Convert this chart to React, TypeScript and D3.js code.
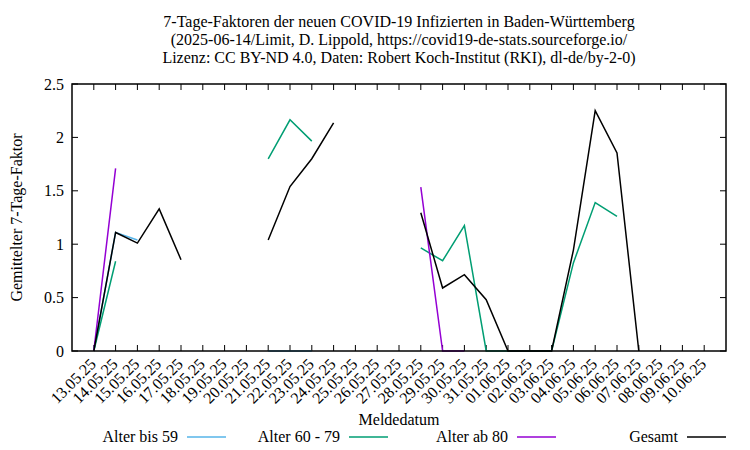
import React from 'react';
import * as d3 from 'd3';

// Meldedatum labels, 13.05.25 .. 10.06.25
const dates: string[] = [
  '13.05.25', '14.05.25', '15.05.25', '16.05.25', '17.05.25', '18.05.25', '19.05.25',
  '20.05.25', '21.05.25', '22.05.25', '23.05.25', '24.05.25', '25.05.25', '26.05.25',
  '27.05.25', '28.05.25', '29.05.25', '30.05.25', '31.05.25', '01.06.25', '02.06.25',
  '03.06.25', '04.06.25', '05.06.25', '06.06.25', '07.06.25', '08.06.25', '09.06.25',
  '10.06.25',
];

type V = number | null;

const alterBis59: V[] = [
  0, 1.11, 1.04, null, null, null, null, null, 0, 0, 0, null, null, null,
  null, null, null, null, null, null, null, null, null, null, null, null, null, null, null,
];
const alter60bis79: V[] = [
  0, 0.84, null, null, null, null, null, null, 1.8, 2.165, 1.965, null, null, null,
  null, 0.965, 0.845, 1.175, 0, 0, 0, 0, 0.825, 1.39, 1.26, null, null, null, null,
];
const alterAb80: V[] = [
  0, 1.71, null, null, null, null, null, null, null, null, null, null, null, null,
  null, 1.535, 0, 0, null, null, null, null, null, null, null, null, null, null, null,
];
const gesamt: V[] = [
  0, 1.11, 1.01, 1.33, 0.855, null, null, null, 1.04, 1.54, 1.8, 2.135, null, null,
  null, 1.295, 0.59, 0.715, 0.48, 0, 0, 0, 0.945, 2.25, 1.855, 0, null, null, null,
];

const yTicks = [0, 0.5, 1, 1.5, 2, 2.5];

const series = [
  { name: 'Alter bis 59', values: alterBis59, color: '#56b4e9' },
  { name: 'Alter 60 - 79', values: alter60bis79, color: '#009e73' },
  { name: 'Alter ab 80', values: alterAb80, color: '#9400d3' },
  { name: 'Gesamt', values: gesamt, color: '#000000' },
];

const titleLines = [
  '7-Tage-Faktoren der neuen COVID-19 Infizierten in Baden-Württemberg',
  '(2025-06-14/Limit, D. Lippold, https://covid19-de-stats.sourceforge.io/',
  'Lizenz: CC BY-ND 4.0, Daten: Robert Koch-Institut (RKI), dl-de/by-2-0)',
];

const W = 750;
const H = 450;
const margin = { top: 84, right: 24, bottom: 99, left: 72 };
const txt = { style: { fontFamily: 'Liberation Serif' }, fontSize: 16, fill: '#000' };

export default function App() {
  const innerW = W - margin.left - margin.right;
  const innerH = H - margin.top - margin.bottom;

  // one day of padding on both sides of the date range
  const x = d3.scaleLinear().domain([-1, dates.length]).range([0, innerW]);
  const y = d3.scaleLinear().domain([0, 2.5]).range([innerH, 0]);

  const line = d3
    .line<V>()
    .defined((d) => d !== null)
    .x((_, i) => x(i))
    .y((d) => y(d as number));

  const legendX = [178, 340, 508, 678];

  return (
    <div style={{ position: 'absolute', left: 0, top: 0 }}>
      <svg width={W} height={H} style={{ display: 'block', background: '#fff' }}>
        {titleLines.map((t, i) => (
          <text key={i} {...txt} x={margin.left + innerW / 2} y={27 + i * 18} textAnchor="middle">
            {t}
          </text>
        ))}

        <g transform={`translate(${margin.left},${margin.top})`}>
          {/* y ticks, mirrored on the right */}
          {yTicks.map((t) => (
            <g key={t}>
              <line x1={0} x2={6} y1={y(t)} y2={y(t)} stroke="#000" />
              <line x1={innerW - 6} x2={innerW} y1={y(t)} y2={y(t)} stroke="#000" />
              <text {...txt} x={-8} y={y(t)} dy="0.35em" textAnchor="end">
                {t}
              </text>
            </g>
          ))}

          {/* x ticks, mirrored on top */}
          {dates.map((d, i) => (
            <g key={d}>
              <line x1={x(i)} x2={x(i)} y1={innerH} y2={innerH - 6} stroke="#000" />
              <line x1={x(i)} x2={x(i)} y1={0} y2={6} stroke="#000" />
              <text
                {...txt}
                transform={`translate(${x(i) + 3},${innerH + 14}) rotate(-45)`}
                textAnchor="end"
              >
                {d}
              </text>
            </g>
          ))}

          {series.map((s) => (
            <path key={s.name} d={line(s.values) || ''} fill="none" stroke={s.color} strokeWidth={1.5} />
          ))}

          <rect x={0} y={0} width={innerW} height={innerH} fill="none" stroke="#000" strokeWidth={1.5} />
        </g>

        <text
          {...txt}
          transform={`translate(22,${margin.top + innerH / 2}) rotate(-90)`}
          textAnchor="middle"
        >
          Gemittelter 7-Tage-Faktor
        </text>
        <text {...txt} x={margin.left + innerW / 2} y={425} textAnchor="middle">
          Meldedatum
        </text>

        {series.map((s, i) => (
          <g key={s.name}>
            <text {...txt} x={legendX[i]} y={442} textAnchor="end">
              {s.name}
            </text>
            <line x1={legendX[i] + 9} x2={legendX[i] + 48} y1={437} y2={437} stroke={s.color} strokeWidth={1.5} />
          </g>
        ))}
      </svg>
    </div>
  );
}
